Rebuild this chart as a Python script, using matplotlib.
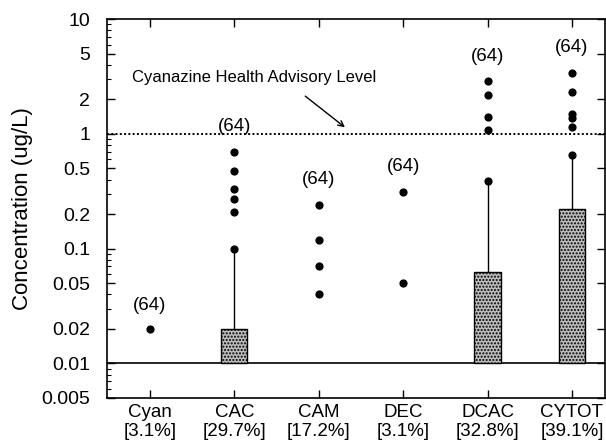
import matplotlib
matplotlib.use("Agg")
import matplotlib.pyplot as plt
from matplotlib.ticker import NullFormatter, LogLocator

plt.rcParams['font.family'] = ['Liberation Sans', 'DejaVu Sans']
plt.rcParams['hatch.color'] = '#555555'

categories = ["Cyan", "CAC", "CAM", "DEC", "DCAC", "CYTOT"]
detect_pct = ["[3.1%]", "[29.7%]", "[17.2%]", "[3.1%]", "[32.8%]", "[39.1%]"]
n_samples = [64, 64, 64, 64, 64, 64]
# box top (75th percentile) and whisker top (None = no box)
box_top = [None, 0.02, None, None, 0.062, 0.22]
whisker_top = [None, 0.1, None, None, 0.39, 0.66]
outliers = [
    [0.02],
    [0.69, 0.47, 0.33, 0.27, 0.21, 0.1],
    [0.24, 0.12, 0.071, 0.04],
    [0.31, 0.05],
    [2.9, 2.2, 1.39, 1.07, 0.39],
    [3.4, 2.3, 1.48, 1.38, 1.14, 0.66],
]
label_y = [0.032, 1.16, 0.40, 0.52, 4.75, 5.6]
base_level = 0.01
health_level = 1.0
yticks = [10, 5, 2, 1, 0.5, 0.2, 0.1, 0.05, 0.02, 0.01, 0.005]
ytick_labels = ["10", "5", "2", "1", "0.5", "0.2", "0.1", "0.05", "0.02", "0.01", "0.005"]

fig = plt.figure(figsize=(6.06, 4.43), dpi=100)
ax = fig.add_axes([0.1766, 0.1016, 0.8214, 0.8554])
ax.set_yscale('log')
ax.set_ylim(0.005, 10)
ax.set_xlim(0.49, 6.39)

x = list(range(1, len(categories) + 1))
for i, xi in enumerate(x):
    if box_top[i] is not None:
        ax.plot([xi, xi], [box_top[i], whisker_top[i]], color='black', lw=1.0, zorder=2)
        ax.bar(xi, box_top[i] - base_level, bottom=base_level, width=0.31,
               facecolor='#bdbdbd', edgecolor='black', linewidth=1.0, hatch='.....', zorder=3)
    ax.scatter([xi] * len(outliers[i]), outliers[i], s=24, color='black', zorder=4)
    ax.text(xi, label_y[i], "(%d)" % n_samples[i], ha='center', va='center', fontsize=13.5)

ax.axhline(base_level, color='black', lw=1.2, zorder=1)
ax.axhline(health_level, color='black', lw=1.4, ls=(0, (1, 1.2)), zorder=1)

ax.text(0.79, 3.1, "Cyanazine Health Advisory Level", fontsize=12, ha='left', va='center')
ax.annotate("", xy=(3.31, 1.14), xytext=(2.84, 2.13),
            arrowprops=dict(arrowstyle='->', color='black', lw=1.0, shrinkA=0, shrinkB=0))

ax.set_yticks(yticks)
ax.set_yticklabels(ytick_labels, fontsize=14)
ax.yaxis.set_minor_locator(LogLocator(base=10, subs=range(2, 10)))
ax.yaxis.set_minor_formatter(NullFormatter())
ax.set_xticks(x)
ax.set_xticklabels([c + "\n" + p for c, p in zip(categories, detect_pct)], fontsize=13.5, linespacing=1.2)
ax.tick_params(axis='both', which='major', direction='in', length=6, width=1, top=True, right=True)
ax.tick_params(axis='x', which='major', pad=4)
ax.tick_params(axis='y', which='major', pad=12)
ax.tick_params(axis='y', which='minor', direction='in', length=3, width=0.8, right=False)
ax.set_ylabel("Concentration (ug/L)", fontsize=16)
ax.yaxis.set_label_coords(-0.149, 0.5)
for s in ax.spines.values():
    s.set_linewidth(1.2)

fig.savefig("out.png", dpi=100)
